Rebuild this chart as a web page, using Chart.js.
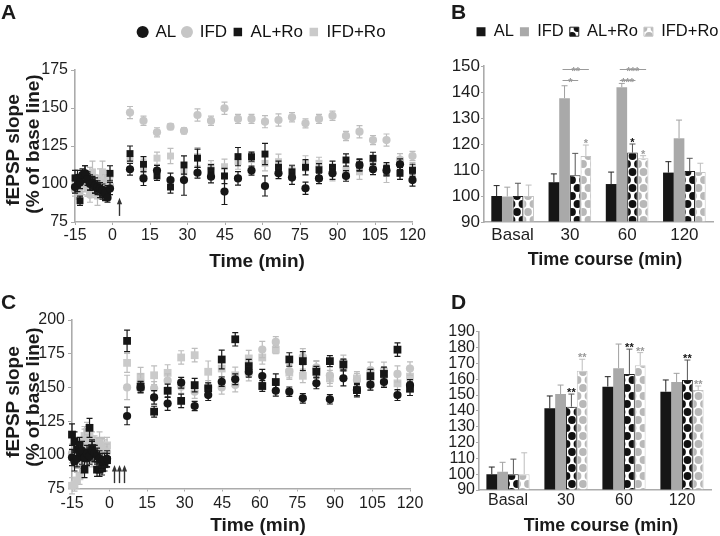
<!DOCTYPE html>
<html><head><meta charset="utf-8">
<script src="https://cdn.jsdelivr.net/npm/chart.js@4.4.1/dist/chart.umd.min.js"></script>
<style>
html,body{margin:0;padding:0;background:#fff;}
#wrap{position:relative;width:720px;height:536px;overflow:hidden;background:#fff;font-family:'Liberation Sans',Arial,sans-serif;color:#1a1a1a;}
canvas{position:absolute;}
.t{position:absolute;white-space:nowrap;font-weight:bold;line-height:1;transform:translate(-50%,-50%);}
.yt{transform:translate(-50%,-50%) rotate(-90deg);}
.lab{position:absolute;font-weight:bold;font-size:21px;line-height:1;}
</style></head>
<body><div id="wrap">
<canvas id="cA" width="440" height="272" style="left:0;top:0"></canvas>
<canvas id="cB" width="280" height="272" style="left:440px;top:0"></canvas>
<canvas id="cC" width="440" height="264" style="left:0;top:272px"></canvas>
<canvas id="cD" width="280" height="264" style="left:440px;top:272px"></canvas>
<div class="lab" style="left:1px;top:1px">A</div>
<div class="lab" style="left:451px;top:1px">B</div>
<div class="lab" style="left:1px;top:291px">C</div>
<div class="lab" style="left:451px;top:291px">D</div>
<div class="t" style="left:257px;top:260px;font-size:19px">Time (min)</div>
<div class="t yt" style="left:12px;top:150px;font-size:19px">fEPSP slope</div>
<div class="t yt" style="left:32px;top:144px;font-size:19px">(% of base line)</div>
<div class="t" style="left:605px;top:259px;font-size:18px">Time course (min)</div>
<div class="t" style="left:258px;top:524px;font-size:19px">Time (min)</div>
<div class="t yt" style="left:12px;top:402px;font-size:19px">fEPSP slope</div>
<div class="t yt" style="left:32px;top:397px;font-size:19px">(% of base line)</div>
<div class="t" style="left:601px;top:525px;font-size:18px">Time course (min)</div>
</div>
<script>
// ---------- data ----------
const seriesNames = ['AL', 'IFD', 'AL+Ro', 'IFD+Ro'];
const timeBase = [-15,-14,-13,-12,-11,-10,-9,-8,-7,-6,-5,-4,-3,-2,-1];
const timeAfter = [7,12.4,17.8,23.2,28.6,34,39.4,44.8,50.2,55.6,61,66.4,71.8,77.2,82.6,88,93.4,98.8,104.2,109.6,115,120];
const timeTicks = [-15,0,15,30,45,60,75,90,105,120];
const yTicksA = [75,100,125,150,175];
const yTicksC = [75,100,125,150,175,200];
const yTicksB = [90,100,110,120,130,140,150];
const yTicksD = [90,100,110,120,130,140,150,160,170,180,190];
const categories = ['Basal','30','60','120'];

// Panel A (baseline 15 points + 22 post-stimulus points)
const aAL = [98,104,101,106,107,103,100,101,99,98,97,96,94,91,97,
  109.7,103.7,108.8,102.6,102.6,107.4,104.8,95,103.7,108.8,98.7,107,104.2,97.2,103.7,107,105.3,112.5,109.7,108.8,113,102.6];
const aALerr = [4,5,4,4,5,4,4,4,5,4,4,4,4,3,4,
  3.8,4.7,3.5,4.5,10,3.5,4,8.5,4.5,3,6.6,3.5,4.5,4,3.5,4,3.5,3.5,3.5,3.5,3.5,4];
const aIFD = [96,95,98,101,99,97,93,100,102,99,95,97,101,98,99,
  147,141.6,134,137.7,135,145.4,141.6,149.8,142.8,142.8,141,142.1,143.9,139.9,142.8,144.9,131.6,134.4,128.9,128.9,116,118.4];
const aIFDerr = [4,5,4,4,4,5,5,4,4,5,4,4,5,4,4,
  4,3,3,2,2,4,3,4,3,3,4,4,3,3,3,3,3,4,3,4,4,3];
const aALRo = [104,99,89,105,107,104,101,100,98,97,96,94,93,95,107,
  120,113,105.3,98,112.5,117,108.8,105.3,118,118,119.7,111,108,111,109.4,111,115.8,112.5,116.9,110,107,109];
const aALRoerr = [5,4,3,4,5,4,5,4,4,4,5,4,4,4,5,
  5,5,3,4,6,6,4,5,6,3,7,4,4,5,4,4,4,4,4,4,4,4];
const aIFDRo = [100,96,94,99,101,98,104,108,97,92,104,108,103,100,106,
  116,111.4,117,118.4,108,118,111.4,111.4,114.7,116,113.6,114.7,108.8,113.6,113.6,107,109.4,108,113.6,107,108,110];
const aIFDRoerr = [6,5,5,6,6,6,7,7,6,6,6,7,6,5,6,
  5,5,4,5,5,6,4,5,5,5,5,5,4,5,4,5,5,5,5,6,5,4];

// Panel C
const cAL = [98,95,97,102,103,98,101,99,103,101,99,97,95,96,97,
  128.8,150,142.6,138,153.5,136.2,144.3,154.2,156,161.6,158.4,147.5,146.8,141.9,153,141.2,156.7,148,152,154,144.3,151.7];
const cALerr = [6,7,6,6,7,6,6,6,7,6,6,6,6,5,6,
  6.5,4,5,5,4,3.5,4,3.5,4,4,5,4,3.5,3.5,4,3.5,5.5,4,4,4,4,4];
const cIFD = [101,97,96,99,104,111,108,100,97,102,106,109,105,100,102,
  150,154,149.3,155,150.5,146.8,150,150,151.7,159.9,178.1,183.7,162,172.7,164.8,159,169,155.4,162.8,162.8,160,164];
const cIFDerr = [7,6,6,7,7,8,7,6,6,7,7,8,7,6,6,
  9,6,5,5,5,5,5,5,5,5,6,4,5,6,5,6,5,5,6,6,6,5];
const cALRo = [115,110,104,107,99,89,98,120,105,101,89,89,90,93,96,
  184.5,150.5,132,147.5,140,151.7,149.3,170.7,185.7,165.8,151,154,170.7,169.5,161.6,169.5,167,148,158.4,160,178,149];
const cALRoerr = [8,7,6,6,6,6,6,7,6,6,5,5,5,5,5,
  8,4,4,5,5,5,4,7,5,5,4,6,5,7,4,4,4,5,5,5,5,5];
const cIFDRo = [77,78,81,84,98,114,117,115,111,108,106,104,107,105,107,
  168.2,157.9,159,160.8,172.2,173.9,161.6,164,159,171.5,172.2,178,161,158.6,163.3,156.7,164.6,156.7,153,156.7,153,158];
const cIFDRoerr = [6,5,6,6,6,7,7,6,6,6,6,6,6,6,6,
  7,7,7,6,5,5,8,6,6,6,5,3,5,5,6,6,6,5,5,6,5,5];

// Panel B
const bAL = [100,105.3,104.6,109];
const bALerr = [4,3.2,4.6,4.2];
const bIFD = [99.8,137.6,141.8,122.2];
const bIFDerr = [3.6,4.8,1.5,7];
const bALRo = [100,108,116.7,109.6];
const bALRoerr = [4.9,8.4,3.3,4.9];
const bIFDRo = [100,115.4,114.5,109.2];
const bIFDRoerr = [4.2,4.2,1,3.4];

// Panel D
const dAL = [100,141.6,155.3,152.1];
const dALerr = [4.5,7.8,6.3,7.4];
const dIFD = [101.5,150.6,166.9,158.2];
const dIFDerr = [6,5.7,15.3,5.5];
const dALRo = [100,142.6,163.3,159.5];
const dALRoerr = [9.5,8,15.7,12.6];
const dIFDRo = [100,165.4,168.8,153.2];
const dIFDRoerr = [13.5,7.2,8,2.5];

// significance marks
const starsB = [{cat:1, ds:3, text:'*', gray:true},{cat:2, ds:2, text:'*', gray:false},{cat:2, ds:3, text:'*', gray:true}];
const bracketsB = [{cat:1, from:1, to:3, text:'**', level:148.8},{cat:1, from:1, to:2, text:'*', level:144.6},
  {cat:2, from:1, to:3, text:'***', level:148.8},{cat:2, from:1, to:2, text:'***', level:144.6}];
const starsD = [{cat:1, ds:2, text:'**', gray:false},{cat:1, ds:3, text:'**', gray:true},
  {cat:2, ds:2, text:'**', gray:false},{cat:2, ds:3, text:'**', gray:true},
  {cat:3, ds:2, text:'**', gray:false},{cat:3, ds:3, text:'**', gray:true}];
const arrowsA = [{t:2.7, from:79, to:91}];
const arrowsC = [{t:1.6, from:79, to:92.5},{t:3.6, from:79, to:92.5},{t:5.6, from:79, to:92.5}];

// ---------- styling ----------
const FONT = "'Liberation Sans', Arial, sans-serif";
Chart.defaults.font.family = FONT;
Chart.defaults.color = '#1a1a1a';
Chart.defaults.animation = false;
const BLACK = '#161616', LIGHT = '#c6c6c6', LIGHT2 = '#cacaca', MID = '#a9a9a9', ERRG = '#bdbdbd';

function dots(color) {
  const c = document.createElement('canvas'); c.width = 11; c.height = 16;
  const g = c.getContext('2d'); g.fillStyle = '#fff'; g.fillRect(0,0,11,16);
  g.fillStyle = color;
  [[0,4],[11,4],[5.5,12],[0,20],[11,20],[5.5,-4]].forEach(([x,y]) => { g.beginPath(); g.arc(x,y,3.9,0,Math.PI*2); g.fill(); });
  return g.createPattern(c, 'repeat');
}
const patBlack = dots('#111');
const patGray = dots('#b8b8b8');

function pts(xs, ys) { return xs.map((x,i) => ({x, y: ys[i]})); }
const timeAll = timeBase.concat(timeAfter);

// plugins
function legendPlace(o) {
  return {
    id: 'legendPlace',
    beforeInit(chart) {
      const lg = chart.legend; if (!lg) return;
      const fit = lg.fit;
      lg.fit = function() { fit.call(this); this.height = o.height; };
    },
    afterLayout(chart) {
      const lg = chart.legend; if (!lg) return;
      const dx = o.cx - (lg.left + lg.right) / 2;
      lg.left += dx; lg.right += dx;
      const h = lg.bottom - lg.top;
      const top = o.cy - o.pad - o.fs / 2;
      lg.top = top; lg.bottom = top + h;
    }
  };
}
const errorBars = {
  id: 'errorBars',
  beforeDatasetDraw(chart, args) {
    const ds = chart.data.datasets[args.index];
    if (!ds.errors) return;
    const ys = chart.scales.y, ctx = chart.ctx;
    ctx.save();
    ctx.strokeStyle = ds.errColor; ctx.lineWidth = ds.errWidth || 1.2;
    args.meta.data.forEach((el, i) => {
      const e = ds.errors[i]; if (e == null) return;
      const v = typeof ds.data[i] === 'object' ? ds.data[i].y : ds.data[i];
      const x = el.x;
      const yt = ys.getPixelForValue(v + e);
      const yb = ds.upOnly ? ys.getPixelForValue(v) : ys.getPixelForValue(v - e);
      const cw = ds.capHalf || 3;
      ctx.beginPath();
      ctx.moveTo(x, yb); ctx.lineTo(x, yt);
      ctx.moveTo(x - cw, yt); ctx.lineTo(x + cw, yt);
      if (!ds.upOnly) { ctx.moveTo(x - cw, yb); ctx.lineTo(x + cw, yb); }
      ctx.stroke();
    });
    ctx.restore();
  }
};
function arrows(list) {
  return {
    id: 'arrows',
    afterDatasetsDraw(chart) {
      const {ctx, scales:{x, y}} = chart;
      ctx.save(); ctx.strokeStyle = '#333'; ctx.fillStyle = '#333'; ctx.lineWidth = 1.4;
      list.forEach(a => {
        const px = Math.round(x.getPixelForValue(a.t)) + 0.5;
        const y0 = y.getPixelForValue(a.from), y1 = y.getPixelForValue(a.to);
        ctx.beginPath(); ctx.moveTo(px, y0); ctx.lineTo(px, y1 + 4); ctx.stroke();
        ctx.beginPath(); ctx.moveTo(px, y1); ctx.lineTo(px - 2.6, y1 + 6.5); ctx.lineTo(px + 2.6, y1 + 6.5); ctx.closePath(); ctx.fill();
      });
      ctx.restore();
    }
  };
}
function marks(stars, brackets) {
  return {
    id: 'marks',
    afterDatasetsDraw(chart) {
      const ctx = chart.ctx, ys = chart.scales.y, dss = chart.data.datasets;
      ctx.save();
      ctx.font = 'bold 11px ' + FONT; ctx.textAlign = 'center'; ctx.textBaseline = 'alphabetic';
      stars.forEach(s => {
        const ds = dss[s.ds], el = chart.getDatasetMeta(s.ds).data[s.cat];
        const yt = ys.getPixelForValue(ds.data[s.cat] + ds.errors[s.cat]);
        ctx.fillStyle = s.gray ? '#9a9a9a' : '#111';
        ctx.fillText(s.text, el.x, yt + 2);
      });
      (brackets || []).forEach(b => {
        const e1 = chart.getDatasetMeta(b.from).data[b.cat], e2 = chart.getDatasetMeta(b.to).data[b.cat];
        const yy = Math.round(ys.getPixelForValue(b.level)) + 0.5;
        ctx.strokeStyle = '#9a9a9a'; ctx.fillStyle = '#9a9a9a'; ctx.lineWidth = 1;
        const x1 = e1.x - 2, x2 = e2.x + 3;
        ctx.beginPath(); ctx.moveTo(x1, yy); ctx.lineTo(x2, yy); ctx.stroke();
        ctx.fillText(b.text, (x1 + x2) / 2, yy + 5);
      });
      ctx.restore();
    }
  };
}

function fixed(w) { return s => { s.width = w; }; }
function fixedH(h) { return s => { s.height = h; }; }
function setTicks(arr) { return s => { s.ticks = arr.map(v => ({value: v})); }; }

// ---------- scatter panels ----------
function scatterCfg(o) {
  const mk = (label, ys, err, style, color, errColor, order, r) => ({
    label, data: pts(timeAll, ys), errors: err, errColor, order,
    pointStyle: style, pointRadius: r, pointHoverRadius: r,
    backgroundColor: color, borderColor: color, borderWidth: 0, showLine: false, clip: false
  });
  return {
    type: 'scatter',
    data: { datasets: [
      mk(seriesNames[0], o.s[0], o.e[0], 'circle', BLACK, '#1a1a1a', 0, 4.1),
      mk(seriesNames[1], o.s[1], o.e[1], 'circle', LIGHT, ERRG, 2, 4.1),
      mk(seriesNames[2], o.s[2], o.e[2], 'rect', BLACK, '#1a1a1a', 1, o.rr),
      mk(seriesNames[3], o.s[3], o.e[3], 'rect', LIGHT2, ERRG, 3, o.rr)
    ]},
    options: {
      responsive: false, animation: false,
      layout: { padding: o.pad },
      plugins: {
        tooltip: { enabled: false },
        legend: o.legend ? {
          display: true, position: 'top',
          labels: { usePointStyle: true, boxWidth: 8.5, boxHeight: 8.5, padding: 6.5, color: '#111',
            font: { size: 17 }, sort: (a, b) => a.datasetIndex - b.datasetIndex }
        } : { display: false }
      },
      scales: {
        x: { type: 'linear', min: -15, max: 120, afterBuildTicks: setTicks(timeTicks), afterFit: fixedH(o.xh),
          ticks: { autoSkip: false, maxRotation: 0, padding: o.xpad, color: '#1e1e1e', font: { size: 16 } },
          grid: { drawOnChartArea: false, drawTicks: true, tickLength: 3, color: '#aaa' },
          border: { color: '#ababab', width: 1.6 } },
        y: { type: 'linear', min: o.ymin, max: o.ymax, afterBuildTicks: setTicks(o.yt), afterFit: fixed(o.yw),
          ticks: { autoSkip: false, padding: 3, color: '#1e1e1e', font: { size: 16 } },
          grid: { drawOnChartArea: false, drawTicks: true, tickLength: 4, color: '#aaa' },
          border: { color: '#ababab', width: 1.6 } }
      }
    },
    plugins: o.plugins
  };
}

new Chart(document.getElementById('cA'), scatterCfg({
  s: [aAL, aIFD, aALRo, aIFDRo], e: [aALerr, aIFDerr, aALRoerr, aIFDRoerr], rr: 4.9, xpad: 1,
  pad: { top: 0, left: 0, right: 27.5, bottom: 0 }, xh: 50, yw: 75, ymin: 75, ymax: 175, yt: yTicksA, legend: true,
  plugins: [legendPlace({ height: 70, cx: 262, cy: 32, pad: 6.5, fs: 17 }), errorBars, arrows(arrowsA)]
}));
new Chart(document.getElementById('cC'), scatterCfg({
  s: [cAL, cIFD, cALRo, cIFDRo], e: [cALerr, cIFDerr, cALRoerr, cIFDRoerr], rr: 5.5, xpad: 2,
  pad: { top: 48, left: 0, right: 30, bottom: 0 }, xh: 47.5, yw: 72, ymin: 75, ymax: 200, yt: yTicksC, legend: false,
  plugins: [errorBars, arrows(arrowsC)]
}));

// ---------- bar panels ----------
function barCfg(o) {
  const mk = (label, vals, err, bg, border, bw, errColor) => ({
    label, data: vals, errors: err, errColor, upOnly: true, capHalf: 3, errWidth: 1,
    backgroundColor: bg, borderColor: border, borderWidth: bw, borderSkipped: 'bottom', base: o.ymin,
    barPercentage: 1, categoryPercentage: 0.745
  });
  return {
    type: 'bar',
    data: { labels: categories, datasets: [
      mk(seriesNames[0], o.s[0], o.e[0], BLACK, BLACK, 0, '#222'),
      mk(seriesNames[1], o.s[1], o.e[1], MID, MID, 0, '#a0a0a0'),
      mk(seriesNames[2], o.s[2], o.e[2], patBlack, '#222', 1, '#555'),
      mk(seriesNames[3], o.s[3], o.e[3], patGray, '#c4c4c4', 1, '#bdbdbd')
    ]},
    options: {
      responsive: false, animation: false,
      layout: { padding: o.pad },
      plugins: {
        tooltip: { enabled: false },
        legend: o.legend ? {
          display: true, position: 'top',
          labels: { boxWidth: 9, boxHeight: 9, padding: 6, color: '#111', font: { size: 16.5 } }
        } : { display: false }
      },
      scales: {
        x: { afterFit: fixedH(o.xh),
          ticks: { autoSkip: false, maxRotation: 0, padding: o.xpad, color: '#1e1e1e', font: { size: o.fs } },
          grid: { display: false, drawTicks: false, tickLength: 0 },
          border: { color: '#ababab', width: 1.6 } },
        y: { type: 'linear', min: o.ymin, max: o.ymax, afterBuildTicks: setTicks(o.yt), afterFit: fixed(o.yw),
          ticks: { autoSkip: false, padding: 1, color: '#1e1e1e', font: { size: o.fs } },
          grid: { drawOnChartArea: false, drawTicks: true, tickLength: 3, color: '#aaa' },
          border: { color: '#ababab', width: 1.6 } }
      }
    },
    plugins: o.plugins
  };
}

new Chart(document.getElementById('cB'), barCfg({
  s: [bAL, bIFD, bALRo, bIFDRo], e: [bALerr, bIFDerr, bALRoerr, bIFDRoerr], xpad: 3,
  pad: { top: 0, left: 0, right: 7, bottom: 0 }, xh: 50, yw: 44, ymin: 90, ymax: 150, yt: yTicksB, fs: 17, legend: true,
  plugins: [legendPlace({ height: 66, cx: 157.5, cy: 31.7, pad: 6, fs: 16.5 }), errorBars, marks(starsB, bracketsB)]
}));
new Chart(document.getElementById('cD'), barCfg({
  s: [dAL, dIFD, dALRo, dIFDRo], e: [dALerr, dIFDerr, dALRoerr, dIFDRoerr], xpad: 1,
  pad: { top: 59.7, left: 0, right: 9, bottom: 0 }, xh: 46, yw: 39, ymin: 90, ymax: 190, yt: yTicksD, fs: 16, legend: false,
  plugins: [errorBars, marks(starsD, [])]
}));
</script>
</body></html>
